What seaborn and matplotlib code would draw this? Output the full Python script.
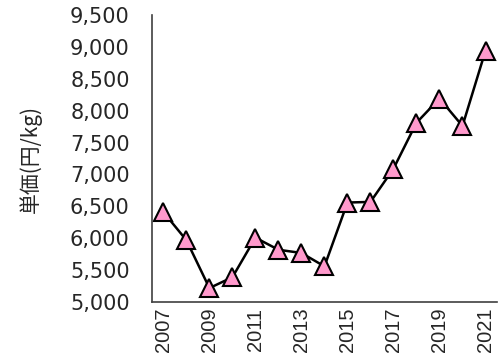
import numpy as np
import pandas as pd
import seaborn as sns
import matplotlib.pyplot as plt
from matplotlib.ticker import FixedLocator, FuncFormatter

years = [2007, 2008, 2009, 2010, 2011, 2012, 2013, 2014,
         2015, 2016, 2017, 2018, 2019, 2020, 2021]
price = [6410, 5970, 5220, 5390, 6010, 5820, 5770, 5560,
         6560, 6570, 7090, 7810, 8190, 7760, 8940]

df = pd.DataFrame({"pos": range(len(years)), "year": years, "price": price})

sns.set_style("white")
plt.rcParams['font.family'] = ['Liberation Sans', 'Noto Sans CJK JP', 'DejaVu Sans']

fig = plt.figure(figsize=(4.98, 3.55), dpi=100)
ax = fig.add_axes([0.305, 0.149, 0.693, 0.809])

sns.lineplot(data=df, x="pos", y="price", ax=ax, color="black", linewidth=1.8,
             marker="^", markersize=13, markerfacecolor="#FF99CC",
             markeredgecolor="black", markeredgewidth=1.5)

ax.set_xlim(-0.5, len(years) - 0.5)
ax.set_ylim(5000, 9500)
ax.set_yticks(np.arange(5000, 9501, 500))
ax.yaxis.set_major_formatter(FuncFormatter(lambda v, p: f"{int(v):,}"))

ax.xaxis.set_minor_locator(FixedLocator(np.arange(-0.5, len(years), 1)))
ax.tick_params(axis="x", which="major", length=0, pad=4)
ax.tick_params(axis="x", which="minor", length=5, direction="in", color="#404040", width=1)
ax.tick_params(axis="y", length=5, direction="in", color="#404040", width=1, labelsize=15, pad=16)

ax.set_xticks(range(0, len(years), 2))
ax.set_xticklabels([str(y) for y in years[::2]], rotation=90,
                   family=['Liberation Sans'], fontsize=14.5)
for lab in ax.get_yticklabels():
    lab.set_family(['DejaVu Sans'])

for s in ["top", "right"]:
    ax.spines[s].set_visible(False)
for s in ["left", "bottom"]:
    ax.spines[s].set_color("#404040")
    ax.spines[s].set_linewidth(1.2)

ax.set_xlabel("")
ax.set_ylabel("単価(円/kg)", fontsize=15, family=['Noto Sans CJK JP'], labelpad=20)

fig.savefig("out.png", dpi=100)
